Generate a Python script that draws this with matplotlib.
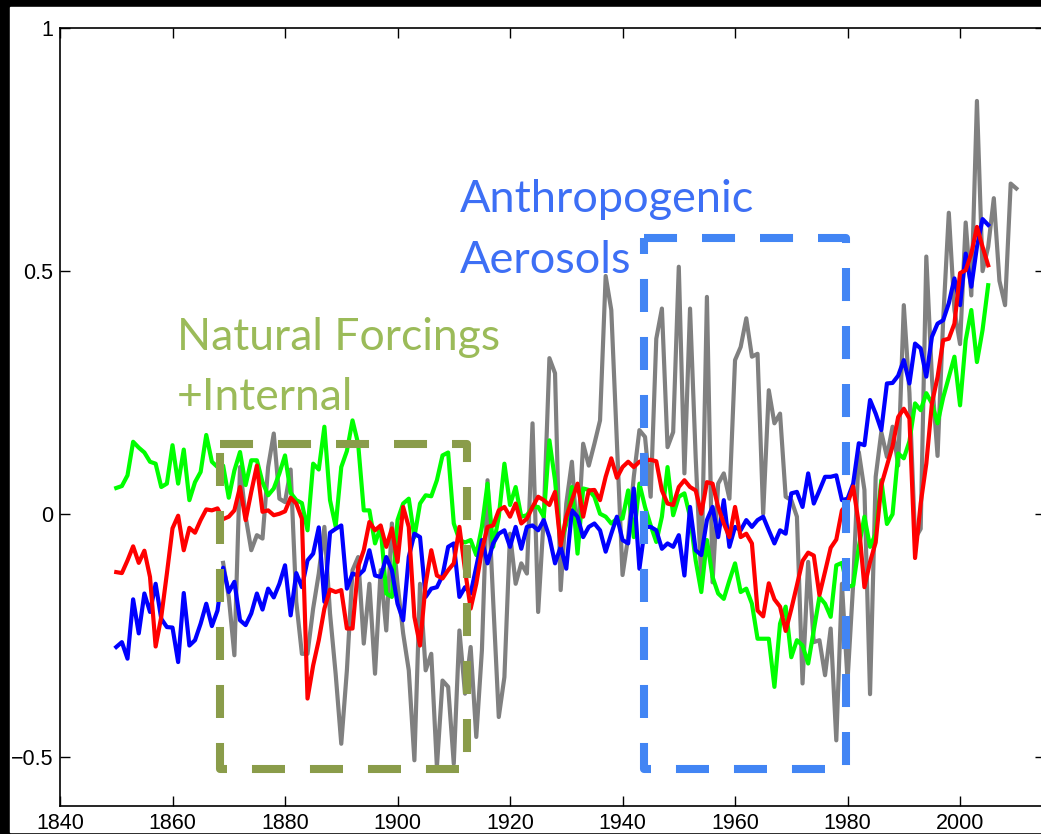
import numpy as np
import matplotlib.pyplot as plt
from matplotlib.patches import Rectangle

plt.rcParams['font.family'] = ['Liberation Sans', 'DejaVu Sans']
plt.rcParams['xtick.labelsize'] = 15.5
plt.rcParams['ytick.labelsize'] = 15.5

# model runs 1850-2005, observations 1869-2010
model_years = np.arange(1850, 2006)
obs_years = np.arange(1869, 2011)

natural = [
    0.054, 0.058, 0.08, 0.149, 0.137, 0.127, 0.108, 0.104, 0.056, 0.063,
    0.142, 0.063, 0.133, 0.029, 0.066, 0.087, 0.163, 0.108, 0.097, 0.10,
    0.034, 0.09, 0.128, 0.06, 0.111, 0.111, 0.066, 0.039, 0.053, 0.084,
    0.121, 0.044, 0.029, 0.023, -0.033, 0.104, 0.092, 0.18, 0.029, -0.025,
    0.097, 0.13, 0.193, 0.145, 0.008, 0.008, -0.06, -0.026, -0.163, -0.17,
    -0.012, 0.022, 0.032, -0.047, 0.022, 0.039, 0.037, 0.07, 0.121, 0.127,
    -0.019, -0.053, -0.058, -0.053, -0.084, -0.026, 0.063, -0.067, -0.005, 0.104,
    0.019, 0.056, -0.005, -0.002, 0.015, 0.015, -0.005, 0.152, 0.07, -0.06,
    -0.02, 0.056, -0.081, 0.053, 0.05, 0.036, 0.001, -0.005, -0.019, -0.009,
    -0.009, 0.049, -0.047, 0.063, 0.015, -0.023, -0.057, -0.005, 0.097, -0.002,
    0.036, 0.043, -0.005, -0.095, -0.16, -0.053, -0.129, -0.163, -0.174, -0.136,
    -0.101, -0.16, -0.153, -0.184, -0.256, -0.256, -0.256, -0.355, -0.225, -0.19,
    -0.294, -0.259, -0.27, -0.307, -0.239, -0.17, -0.184, -0.211, -0.105, -0.1,
    -0.15, -0.146, -0.067, -0.005, -0.067, -0.04, 0.07, -0.02, 0.0, 0.125,
    0.115, 0.15, 0.228, 0.214, 0.249, 0.228, 0.187, 0.24, 0.282, 0.324,
    0.224, 0.358, 0.42, 0.313, 0.379, 0.471,
]

all_forcings = [
    -0.119, -0.121, -0.095, -0.066, -0.1, -0.075, -0.129, -0.272, -0.211, -0.122,
    -0.029, -0.003, -0.074, -0.028, -0.038, -0.012, 0.01, 0.008, 0.012, -0.01,
    -0.005, 0.008, 0.056, -0.012, 0.046, 0.1, 0.005, 0.008, -0.002, 0.001,
    0.006, 0.034, 0.022, -0.009, -0.379, -0.311, -0.259, -0.194, -0.155, -0.16,
    -0.156, -0.235, -0.235, -0.108, -0.074, -0.016, -0.033, -0.023, -0.067, -0.029,
    -0.098, 0.015, -0.026, -0.211, -0.27, -0.143, -0.074, -0.126, -0.132, -0.115,
    -0.101, -0.026, -0.115, -0.194, -0.143, -0.074, -0.026, -0.023, 0.008, 0.015,
    -0.005, 0.022, -0.019, -0.009, 0.015, 0.036, 0.029, 0.019, 0.046, -0.064,
    -0.005, 0.029, 0.063, -0.005, 0.049, 0.05, 0.029, 0.077, 0.115, 0.075,
    0.097, 0.108, 0.097, 0.108, 0.111, 0.112, 0.109, 0.049, 0.022, 0.019,
    0.056, 0.07, 0.056, 0.049, 0.001, 0.066, 0.063, 0.015, -0.019, -0.047,
    0.015, -0.047, -0.04, -0.06, -0.198, -0.21, -0.142, -0.175, -0.19, -0.24,
    -0.195, -0.146, -0.096, -0.079, -0.085, -0.166, -0.118, -0.069, -0.052, 0.008,
    0.022, 0.057, -0.02, -0.15, -0.098, -0.058, 0.06, 0.1, 0.14, 0.2,
    0.217, 0.197, -0.09, 0.022, 0.104, 0.228, 0.282, 0.358, 0.361, 0.392,
    0.496, 0.502, 0.536, 0.591, 0.55, 0.512,
]

anthropogenic = [
    -0.273, -0.263, -0.297, -0.175, -0.245, -0.163, -0.201, -0.143, -0.215, -0.232,
    -0.233, -0.304, -0.162, -0.27, -0.259, -0.225, -0.184, -0.23, -0.198, -0.11,
    -0.16, -0.139, -0.218, -0.228, -0.204, -0.163, -0.196, -0.153, -0.171, -0.143,
    -0.105, -0.208, -0.121, -0.15, -0.095, -0.081, -0.027, -0.18, -0.038, -0.03,
    -0.023, -0.153, -0.122, -0.126, -0.115, -0.074, -0.126, -0.129, -0.088, -0.115,
    -0.184, -0.218, -0.088, -0.04, -0.047, -0.17, -0.153, -0.15, -0.126, -0.067,
    -0.06, -0.17, -0.15, -0.163, -0.108, -0.053, -0.101, -0.06, -0.04, -0.033,
    -0.067, -0.026, -0.071, -0.026, -0.023, -0.033, -0.012, -0.047, -0.101, -0.067,
    -0.112, 0.008, -0.005, -0.047, -0.026, -0.019, -0.033, -0.077, -0.04, -0.005,
    -0.053, -0.06, 0.053, -0.112, -0.026, -0.026, -0.033, -0.071, -0.06, -0.067,
    -0.043, -0.126, 0.015, -0.074, -0.084, -0.012, 0.015, -0.047, 0.029, -0.067,
    -0.026, -0.033, -0.012, -0.026, -0.012, -0.005, -0.033, -0.06, -0.033, -0.04,
    0.043, 0.046, 0.015, 0.084, 0.022, 0.049, 0.077, 0.077, 0.08, 0.029,
    0.032, 0.063, 0.146, 0.142, 0.235, 0.207, 0.173, 0.269, 0.27, 0.285,
    0.317, 0.269, 0.351, 0.341, 0.283, 0.365, 0.392, 0.399, 0.434, 0.485,
    0.43, 0.536, 0.468, 0.55, 0.607, 0.595,
]

observed = [
    -0.10,
    -0.17, -0.29, 0.097, -0.005, -0.074, -0.043, -0.05, 0.097, 0.166, 0.032,
    0.025, 0.092, -0.18, -0.287, -0.287, -0.194, -0.122, -0.026, -0.204, -0.328,
    -0.472, -0.321, -0.115, -0.088, -0.266, -0.143, -0.328, -0.115, -0.239, -0.019,
    -0.143, -0.245, -0.321, -0.506, -0.143, -0.321, -0.287, -0.52, -0.342, -0.355,
    -0.513, -0.239, -0.369, -0.273, -0.458, -0.28, 0.07, -0.177, -0.417, -0.335,
    -0.04, -0.143, -0.101, -0.122, 0.187, -0.201, -0.005, 0.321, 0.29, -0.156,
    0.022, 0.108, -0.06, 0.145, 0.1, 0.145, 0.193, 0.49, 0.42, 0.15,
    -0.125, -0.047, 0.077, 0.173, 0.159, 0.036, 0.361, 0.423, 0.138, 0.169,
    0.509, 0.084, 0.423, 0.118, -0.136, 0.447, -0.14, 0.063, 0.084, 0.032,
    0.317, 0.344, 0.403, 0.324, 0.33, 0.001, 0.255, 0.187, 0.207, 0.036,
    0.029, -0.005, -0.348, -0.098, -0.263, -0.259, -0.331, -0.235, -0.465, -0.143,
    -0.342, -0.143, 0.128, 0.05, -0.37, 0.077, 0.169, 0.118, 0.18, 0.10,
    0.43, 0.25, -0.05, -0.03, 0.53, 0.28, 0.12, 0.40, 0.62, 0.42,
    0.35, 0.60, 0.45, 0.85, 0.50, 0.55, 0.65, 0.48, 0.43, 0.68,
    0.67,
]

# highlighted periods (years, anomaly)
natural_box = (1868.4, 1912.4, -0.523, 0.144)
aerosol_box = (1943.8, 1979.7, -0.523, 0.568)

W, H = 1041, 834
fig = plt.figure(figsize=(W / 100, H / 100), dpi=100, facecolor='black')
fig.patches.append(Rectangle((10 / W, 2 / H), 1031 / W, 825 / H,
                             transform=fig.transFigure, color='white', zorder=-5))
ax = fig.add_axes([60 / W, 28 / H, 985 / W, 778 / H])
ax.set_zorder(1)

lw = 3.0
ax.plot(obs_years, observed, color='#808080', lw=lw, zorder=2)
ax.plot(model_years, natural, color='#00ff00', lw=lw, zorder=3)
ax.plot(model_years, anthropogenic, color='#0000ff', lw=lw, zorder=4)
ax.plot(model_years, all_forcings, color='#ff0000', lw=lw, zorder=5)


def dashed_box(box, color):
    x0, x1, y0, y1 = box
    # start at top-left, run clockwise
    ax.plot([x0, x1, x1, x0, x0], [y1, y1, y0, y0, y1], color=color, lw=5.8,
            linestyle=(0, (4.1, 3.1)), solid_joinstyle='round',
            dash_joinstyle='round', dash_capstyle='butt', zorder=6, clip_on=False)


dashed_box(natural_box, '#8a9c4a')
dashed_box(aerosol_box, '#4285f4')

font = 'Lato'
ax.text(1911.1, 0.621, 'Anthropogenic', color='#3d6ff5', fontsize=32.5,
        family=font, va='baseline', ha='left')
ax.text(1911.1, 0.496, 'Aerosols', color='#3d6ff5', fontsize=32.5,
        family=font, va='baseline', ha='left')
ax.text(1860.8, 0.337, 'Natural Forcings', color='#9bbb59', fontsize=32,
        family=font, va='baseline', ha='left')
ax.text(1860.8, 0.214, '+Internal', color='#9bbb59', fontsize=32,
        family=font, va='baseline', ha='left')

ax.set_xlim(1840, 2015.1)
ax.set_ylim(-0.6, 1.0)
ax.set_xticks([1840, 1860, 1880, 1900, 1920, 1940, 1960, 1980, 2000])
ax.set_yticks([-0.5, 0, 0.5, 1])
ax.set_yticklabels(['\u22120.5', '0', '0.5', '1'])
ax.tick_params(direction='in', top=True, right=True, length=7, width=1, pad=5)
ax.tick_params(axis='x', pad=5)
for sp in ax.spines.values():
    sp.set_linewidth(1.2)

fig.savefig('out.png', dpi=100, facecolor=fig.get_facecolor())
